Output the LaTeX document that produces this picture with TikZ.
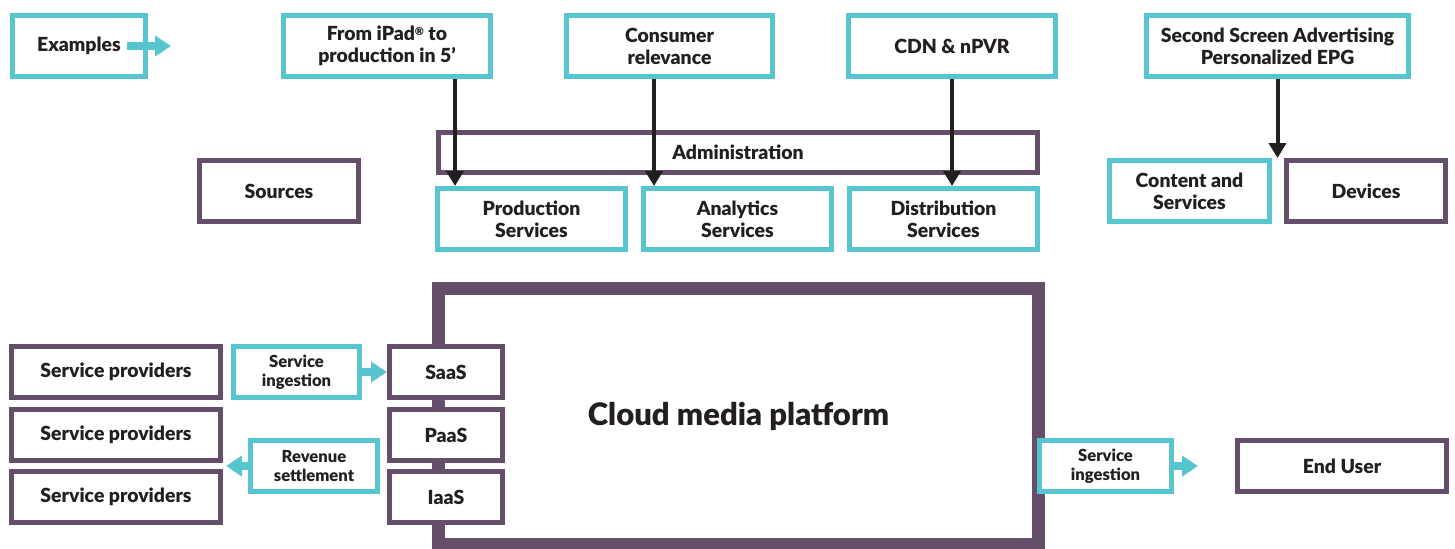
\documentclass[tikz,border=0pt]{standalone}
\usepackage{fontspec}
\setmainfont{Lato}[BoldFont={Lato Black}]
\usetikzlibrary{arrows.meta,calc}
\definecolor{cy}{RGB}{86,197,208}
\definecolor{pu}{RGB}{100,78,106}
\definecolor{tx}{RGB}{35,31,32}
\tikzset{
  box/.style={draw, line width=2.5pt, fill=white, inner sep=0pt, align=center,
    font=\bfseries\fontsize{9.7}{11}\selectfont, text=tx},
  cbox/.style={box, draw=cy},
  pbox/.style={box, draw=pu},
  smalltext/.style={font=\bfseries\fontsize{8.3}{9.5}\selectfont},
  blk/.style={draw=tx, line width=2pt, -{Triangle[width=8.5pt,length=7.5pt]}},
  cyar/.style={draw=cy, line width=4pt, -{Triangle[width=10pt,length=8pt]}}
}
\begin{document}
\begin{tikzpicture}[x=0.5pt,y=-0.5pt]
\useasboundingbox (0,0) rectangle (1455,548);
% big platform
\node[draw=pu, line width=6.5pt, fill=white, minimum width=300pt, minimum height=128pt,
  inner sep=0pt, text=tx, font=\bfseries\fontsize{15.5}{18}\selectfont] (cloud) at (738.5,416.5) {Cloud media platform};
% top row
\node[cbox, minimum width=66.5pt, minimum height=30.5pt] (ex) at (79,46) {Examples};
\node[cbox, minimum width=103.5pt, minimum height=30.5pt] (ipad) at (387,46) {From iPad\raisebox{0.55ex}{\fontsize{5.5}{6}\selectfont ®} to\\production in 5’};
\node[cbox, minimum width=103pt, minimum height=30.5pt] (cons) at (669.5,46) {Consumer\\relevance};
\node[cbox, minimum width=103.5pt, minimum height=30.5pt] (cdn) at (952,46) {CDN \& nPVR};
\node[cbox, minimum width=131pt, minimum height=30.5pt] (second) at (1277.5,46) {Second Screen Advertising\\Personalized EPG};
% middle
\node[pbox, minimum width=299.5pt, minimum height=20pt] (admin) at (738,152.5) {Administration};
\node[pbox, minimum width=79.5pt, minimum height=30.5pt] (src) at (279,191) {Sources};
\node[cbox, minimum width=94pt, minimum height=30.5pt] (prod) at (531.5,219) {Production\\Services};
\node[cbox, minimum width=94pt, minimum height=30.5pt] (ana) at (737.5,219) {Analytics\\Services};
\node[cbox, minimum width=94pt, minimum height=30.5pt] (dist) at (943.5,219) {Distribution\\Services};
\node[cbox, minimum width=80pt, minimum height=30.5pt] (cont) at (1189.5,191) {Content and\\Services};
\node[pbox, minimum width=79.5pt, minimum height=30.5pt] (dev) at (1366,191) {Devices};
% bottom left
\node[pbox, minimum width=104.5pt, minimum height=25.5pt] (sp1) at (116,372) {Service providers};
\node[pbox, minimum width=104.5pt, minimum height=25.5pt] (sp2) at (116,435) {Service providers};
\node[pbox, minimum width=104.5pt, minimum height=25.5pt] (sp3) at (116,497) {Service providers};
\node[pbox, minimum width=56.5pt, minimum height=25.5pt] (saas) at (446,372) {SaaS};
\node[pbox, minimum width=56.5pt, minimum height=25.5pt] (paas) at (446,435) {PaaS};
\node[pbox, minimum width=56.5pt, minimum height=25.5pt] (iaas) at (446,497) {IaaS};
\node[cbox, smalltext, minimum width=63pt, minimum height=25.5pt] (sing1) at (296.5,372) {Service\\ingestion};
\node[cbox, smalltext, minimum width=63.5pt, minimum height=25.5pt] (rev) at (314,466) {Revenue\\settlement};
% bottom right
\node[cbox, smalltext, minimum width=66pt, minimum height=25.5pt] (sing2) at (1105.5,466) {Service\\ingestion};
\node[pbox, minimum width=104.5pt, minimum height=25.5pt] (user) at (1342,466) {End User};
% arrow coordinates
\coordinate (a1) at (455,0);
\coordinate (a2) at (654,0);
\coordinate (a3) at (952,0);
\coordinate (a4) at (1277.5,0);
\coordinate (exend) at (171,46);
\coordinate (s2end) at (1198,466);
% black arrows
\draw[blk] (ipad.south -| a1) -- (prod.north -| a1);
\draw[blk] (cons.south -| a2) -- (ana.north -| a2);
\draw[blk] (cdn.south -| a3) -- (dist.north -| a3);
\draw[blk] (second.south -| a4) -- (cont.north -| a4);
% cyan arrows
\draw[cyar] ($(ex.east)+(-21,0)$) -- (exend);
\draw[cyar] (sing1.east) -- (sing1.east -| saas.west);
\draw[cyar] (rev.west) -- ($(rev.west -| sp2.east)+(3,0)$);
\draw[cyar] (sing2.east) -- (s2end);
\end{tikzpicture}
\end{document}
